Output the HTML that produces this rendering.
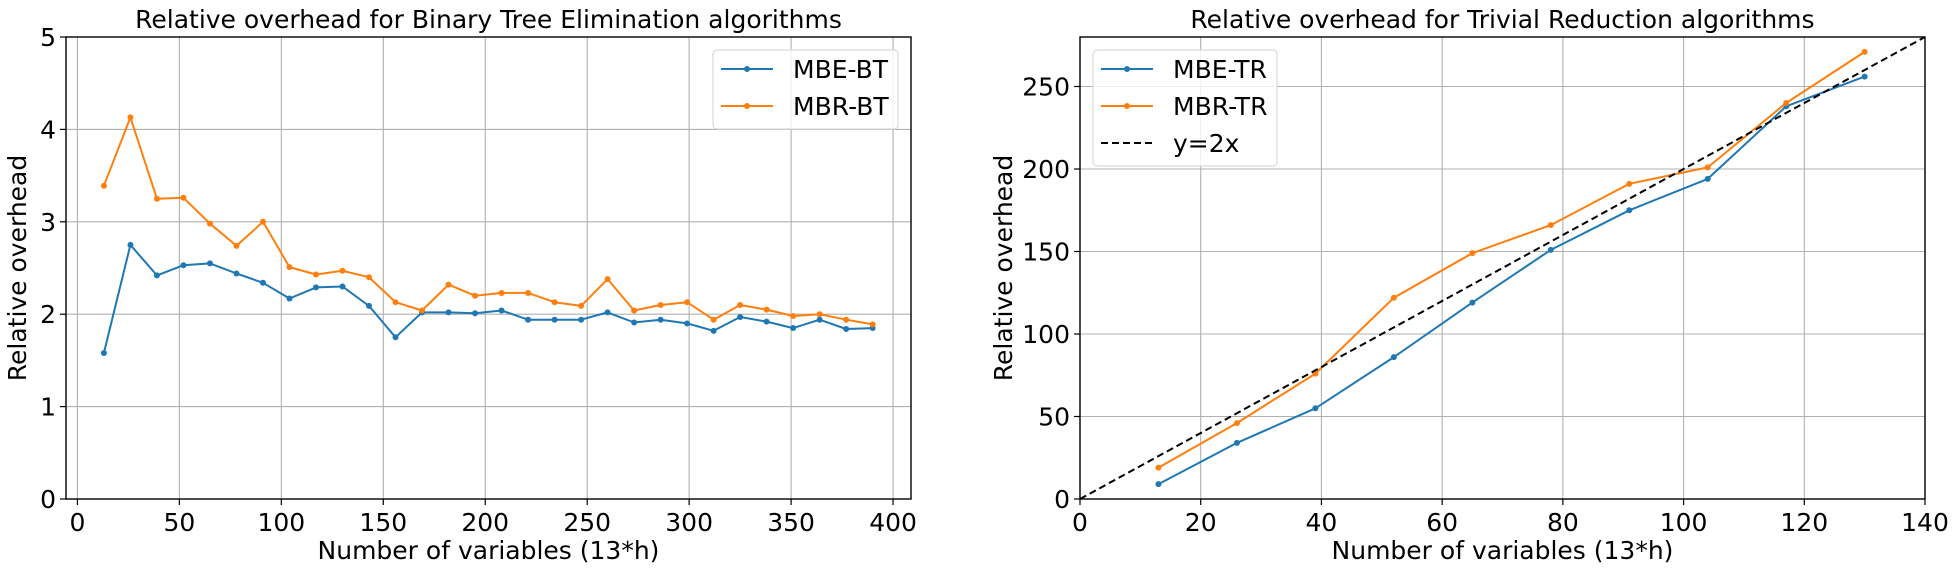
<!DOCTYPE html>
<html><head><meta charset="utf-8">
<style>
html,body{margin:0;padding:0;background:#fff;}
svg{display:block;font-family:"DejaVu Sans","Liberation Sans",sans-serif;}
</style></head>
<body>
<svg id="chart" width="1959" height="572" viewBox="0 0 1959 572" xmlns="http://www.w3.org/2000/svg"></svg>
<script>
// ---- Left chart data ----
const leftX = [13,26,39,52,65,78,91,104,117,130,143,156,169,182,195,208,221,234,247,260,273,286,299,312,325,338,351,364,377,390];
const mbeBT = [1.58,2.75,2.42,2.53,2.55,2.44,2.34,2.17,2.29,2.30,2.09,1.75,2.02,2.02,2.01,2.04,1.94,1.94,1.94,2.02,1.91,1.94,1.90,1.82,1.97,1.92,1.85,1.94,1.84,1.85];
const mbrBT = [3.39,4.13,3.25,3.26,2.98,2.74,3.00,2.51,2.43,2.47,2.40,2.13,2.04,2.32,2.20,2.23,2.23,2.13,2.09,2.38,2.04,2.10,2.13,1.94,2.10,2.05,1.98,2.00,1.94,1.89];
const leftXTicks = [0,50,100,150,200,250,300,350,400];
const leftYTicks = [0,1,2,3,4,5];
// ---- Right chart data ----
const rightX = [13,26,39,52,65,78,91,104,117,130];
const mbeTR = [9,34,55,86,119,151,175,194,238,256];
const mbrTR = [19,46,76,122,149,166,191,201,240,271];
const refLineX = [0,140];
const rightXTicks = [0,20,40,60,80,100,120,140];
const rightYTicks = [0,50,100,150,200,250];

const NS = "http://www.w3.org/2000/svg";
const svg = document.getElementById('chart');
function mk(tag, attrs, parent){
  const e = document.createElementNS(NS, tag);
  for (const k in attrs) e.setAttribute(k, attrs[k]);
  (parent||svg).appendChild(e);
  return e;
}
const BLUE = '#1f77b4', ORANGE = '#ff7f0e';
const FS = 25;

function drawAxes(cfg){
  const g = mk('g', {});
  
  
  const sx = v => cfg.L + (v - cfg.xmin) / (cfg.xmax - cfg.xmin) * (cfg.R - cfg.L);
  const sy = v => cfg.B - (v - cfg.ymin) / (cfg.ymax - cfg.ymin) * (cfg.B - cfg.T);
  cfg.xticks.forEach(t => {
    const x = sx(t);
    const gl = mk('line', {x1:x, x2:x, y1:cfg.T, y2:cfg.B, stroke:'#b0b0b0', 'stroke-width':1.1}, g);
    
    
  });
  cfg.yticks.forEach(t => {
    const y = sy(t);
    const gl = mk('line', {x1:cfg.L, x2:cfg.R, y1:y, y2:y, stroke:'#b0b0b0', 'stroke-width':1.1}, g);
    
    
  });
  cfg.series.forEach(s => {
    const pts = s.x.map((xv,i) => sx(xv).toFixed(1) + ',' + sy(s.y[i]).toFixed(1)).join(' ');
    const pl = mk('polyline', {points:pts, fill:'none', stroke:s.color, 'stroke-width':2, 'stroke-dasharray': s.dash||'none', 'stroke-linejoin':'round'}, g);
    
    
    if (s.markers) s.x.forEach((xv,i) => {
      const c = mk('circle', {cx:sx(xv), cy:sy(s.y[i]), r:3, fill:s.color}, g);
      
      
    });
  });
  const fr = mk('rect', {x:cfg.L, y:cfg.T, width:cfg.R-cfg.L, height:cfg.B-cfg.T, fill:'none', stroke:'#000', 'stroke-width':1.4}, g);
  
  
  cfg.xticks.forEach(t => {
    const x = sx(t);
    mk('line', {x1:x, x2:x, y1:cfg.B, y2:cfg.B+6, stroke:'#000', 'stroke-width':1.2}, g);
    const tx = mk('text', {x:x, y:cfg.B+32, 'text-anchor':'middle', 'font-size':FS, fill:'#000'}, g);
    tx.textContent = t;
    
    
  });
  cfg.yticks.forEach(t => {
    const y = sy(t);
    mk('line', {x1:cfg.L-6, x2:cfg.L, y1:y, y2:y, stroke:'#000', 'stroke-width':1.2}, g);
    const tx = mk('text', {x:cfg.L-10, y:y+9, 'text-anchor':'end', 'font-size':FS, fill:'#000'}, g);
    tx.textContent = t;
    
    
  });
  const ti = mk('text', {x:(cfg.L+cfg.R)/2, y:28, 'text-anchor':'middle', 'font-size':FS, fill:'#000'}, g);
  ti.textContent = cfg.title;
  
  
  const xl = mk('text', {x:(cfg.L+cfg.R)/2, y:559, 'text-anchor':'middle', 'font-size':FS, fill:'#000'}, g);
  xl.textContent = 'Number of variables (13*h)';
  
  
  const yx = cfg.L - cfg.ylabOff;
  const yl = mk('text', {x:yx, y:(cfg.T+cfg.B)/2, 'text-anchor':'middle', 'font-size':FS, fill:'#000', transform:`rotate(-90 ${yx} ${(cfg.T+cfg.B)/2})`}, g);
  yl.textContent = 'Relative overhead';
  
  
  const lg = mk('g', {}, g);
  
  
  const lb = cfg.legend;
  mk('rect', {x:lb.x, y:lb.y, width:lb.w, height:lb.h, rx:4, fill:'#fff', 'fill-opacity':0.8, stroke:'#d9d9d9', 'stroke-width':1.2}, lg);
  cfg.series.forEach((s,i) => {
    const ey = lb.y + 19 + i*37;
    const eg = mk('g', {}, lg);
    
    
    mk('line', {x1:lb.x+8, x2:lb.x+60, y1:ey, y2:ey, stroke:s.color, 'stroke-width':2, 'stroke-dasharray': s.dash||'none'}, eg);
    if (s.markers) mk('circle', {cx:lb.x+34, cy:ey, r:3, fill:s.color}, eg);
    const t = mk('text', {x:lb.x+80, y:ey+9, 'font-size':FS, fill:'#000'}, eg);
    t.textContent = s.label;
  });
}

drawAxes({
  name:'left-chart', L:66, R:911, T:37, B:499,
  xmin:-5.6, xmax:408.8, ymin:0, ymax:5,
  xticks:leftXTicks, yticks:leftYTicks, ylabOff:40,
  title:'Relative overhead for Binary Tree Elimination algorithms',
  legend:{x:713, y:50, w:185, h:79},
  series:[
    {name:'mbe-bt', label:'MBE-BT', x:leftX, y:mbeBT, color:BLUE, markers:true},
    {name:'mbr-bt', label:'MBR-BT', x:leftX, y:mbrBT, color:ORANGE, markers:true}
  ]
});
drawAxes({
  name:'right-chart', L:1080, R:1925, T:37, B:499,
  xmin:0, xmax:140, ymin:0, ymax:280,
  xticks:rightXTicks, yticks:rightYTicks, ylabOff:68,
  title:'Relative overhead for Trivial Reduction algorithms',
  legend:{x:1093, y:50, w:184, h:116},
  series:[
    {name:'mbe-tr', label:'MBE-TR', x:rightX, y:mbeTR, color:BLUE, markers:true},
    {name:'mbr-tr', label:'MBR-TR', x:rightX, y:mbrTR, color:ORANGE, markers:true},
    {name:'y-2x', label:'y=2x', x:refLineX, y:refLineX.map(v => 2*v), color:'#000', dash:'7,4', markers:false}
  ]
});
</script>
</body></html>
